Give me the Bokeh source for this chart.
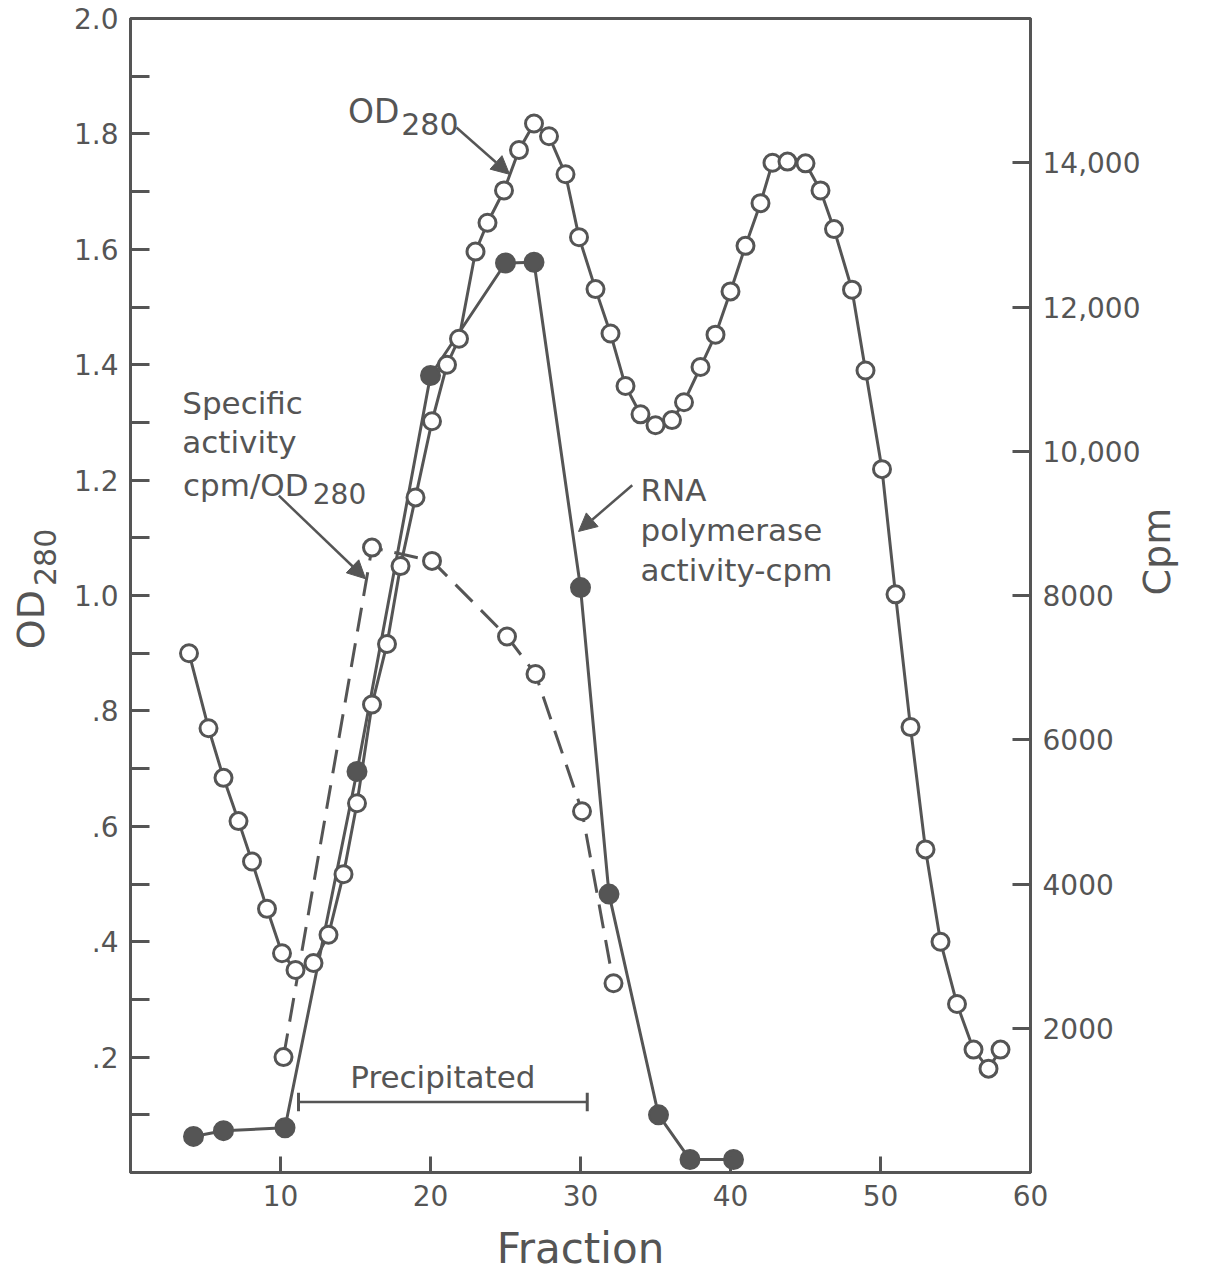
import math
from bokeh.plotting import figure
from bokeh.models import Range1d, LinearAxis, FixedTicker, Label, Arrow, NormalHead
from bokeh.embed import file_html
from bokeh.resources import INLINE

# ---------------- data ----------------
od_frac = [3.9, 5.2, 6.2, 7.2, 8.1, 9.1, 10.1, 11.0, 12.2, 13.2, 14.2, 15.1, 16.1, 17.1,
           18.0, 19.0, 20.1, 21.1, 21.9, 23.0, 23.8, 24.9, 25.9, 26.9, 27.9, 29.0, 29.9,
           31.0, 32.0, 33.0, 34.0, 35.0, 36.1, 36.9, 38.0, 39.0, 40.0, 41.0, 42.0, 42.8,
           43.8, 45.0, 46.0, 46.9, 48.1, 49.0, 50.1, 51.0, 52.0, 53.0, 54.0, 55.1, 56.2,
           57.2, 58.0]
od_val = [0.90, 0.77, 0.684, 0.609, 0.539, 0.457, 0.380, 0.351, 0.363, 0.412, 0.517, 0.640,
          0.811, 0.916, 1.051, 1.170, 1.302, 1.400, 1.445, 1.596, 1.646, 1.702, 1.772, 1.818,
          1.796, 1.730, 1.621, 1.531, 1.454, 1.363, 1.314, 1.295, 1.304, 1.335, 1.396, 1.452,
          1.527, 1.606, 1.680, 1.750, 1.752, 1.749, 1.702, 1.635, 1.530, 1.390, 1.219, 1.002,
          0.772, 0.560, 0.400, 0.292, 0.213, 0.180, 0.213]

cpm_frac = [4.2, 6.2, 10.3, 15.1, 20.0, 25.0, 26.9, 30.0, 31.9, 35.2, 37.3, 40.2]
cpm_val = [500, 580, 620, 5560, 11050, 12610, 12620, 8110, 3860, 800, 180, 180]

sa_frac = [10.2, 16.1, 20.1, 25.1, 27.0, 30.1, 32.2]
sa_val = [0.20, 1.083, 1.060, 0.929, 0.864, 0.626, 0.328]

x_ticks = [10, 20, 30, 40, 50, 60]
left_ticks = [round(0.1 * i, 1) for i in range(1, 21)]
left_tick_labels = {0.2: ".2", 0.4: ".4", 0.6: ".6", 0.8: ".8", 1.0: "1.0",
                    1.2: "1.2", 1.4: "1.4", 1.6: "1.6", 1.8: "1.8", 2.0: "2.0"}
right_ticks = [2000, 4000, 6000, 8000, 10000, 12000, 14000]
right_tick_labels = ["2000", "4000", "6000", "8000", "10,000", "12,000", "14,000"]

precip_start, precip_end, precip_level = 11.2, 30.45, 0.122

# ---------------- figure ----------------
C = "#555555"
FONT = "DejaVu Sans"
NB = "\u00a0"

p = figure(width=1205, height=1276, x_range=Range1d(0, 60), y_range=Range1d(0, 2.0),
           output_backend="svg", toolbar_location=None,
           min_border_left=130, min_border_right=175, min_border_top=18, min_border_bottom=104)
p.extra_y_ranges = {"cpm": Range1d(0, 16000)}
p.grid.visible = False
p.outline_line_color = C
p.outline_line_width = 3
p.background_fill_color = "white"
p.border_fill_color = "white"

right_axis = LinearAxis(y_range_name="cpm")
p.add_layout(right_axis, "right")

xa = p.xaxis[0]
ya = p.yaxis[0]
xa.ticker = FixedTicker(ticks=x_ticks)
ya.ticker = FixedTicker(ticks=left_ticks)
ya.major_label_overrides = {t: left_tick_labels.get(t, "") for t in left_ticks}
right_axis.ticker = FixedTicker(ticks=right_ticks)
right_axis.major_label_overrides = {t: s for t, s in zip(right_ticks, right_tick_labels)}

for ax, tin in ((xa, 16), (ya, 19), (right_axis, 18)):
    ax.axis_line_color = C
    ax.axis_line_width = 3
    ax.major_tick_in = tin
    ax.major_tick_out = 0
    ax.minor_tick_in = 0
    ax.minor_tick_out = 0
    ax.major_tick_line_color = C
    ax.major_tick_line_width = 3
    ax.major_label_text_font = FONT
    ax.major_label_text_font_size = "28px"
    ax.major_label_text_color = C
    ax.major_label_standoff = 12

# axis titles
xa.axis_label = "Fraction"
xa.axis_label_text_font = FONT
xa.axis_label_text_font_size = "42px"
xa.axis_label_text_font_style = "normal"
xa.axis_label_text_color = C
xa.axis_label_standoff = 15

right_axis.axis_label = "Cpm"
right_axis.axis_label_text_font = FONT
right_axis.axis_label_text_font_size = "38px"
right_axis.axis_label_text_font_style = "normal"
right_axis.axis_label_text_color = C
right_axis.axis_label_text_align = "center"
right_axis.axis_label_standoff = 14
if "axis_label_orientation" in right_axis.properties():
    right_axis.axis_label_orientation = math.pi / 2


def title_axis(text, size, standoff):
    ax = LinearAxis(ticker=FixedTicker(ticks=[]),
                    axis_line_color=None, major_tick_line_color=None,
                    minor_tick_line_color=None, major_tick_in=0, major_tick_out=0,
                    minor_tick_in=0, minor_tick_out=0,
                    axis_label=text, axis_label_text_font=FONT,
                    axis_label_text_font_size=size, axis_label_text_font_style="normal",
                    axis_label_text_color=C, axis_label_standoff=standoff)
    p.add_layout(ax, "left")


# left title "OD280" (subscript drawn as its own, slightly lower, label)
title_axis(NB * 8 + "280", "30px", 8)
title_axis("OD" + NB * 4, "38px", -28)

# ---------------- series ----------------
p.line(od_frac, od_val, line_color=C, line_width=3)
p.line(cpm_frac, cpm_val, y_range_name="cpm", line_color=C, line_width=3)
p.line(sa_frac, sa_val, line_color=C, line_width=3, line_dash="24 12")

p.scatter(od_frac, od_val, marker="circle", size=17, fill_color="white",
          line_color=C, line_width=3)
p.scatter(sa_frac, sa_val, marker="circle", size=17, fill_color="white",
          line_color=C, line_width=3)
p.scatter(cpm_frac, cpm_val, y_range_name="cpm", marker="circle", size=19,
          fill_color=C, line_color=C, line_width=2)

# ---------------- annotations ----------------
def lab(x, y, text, size, align="left"):
    p.add_layout(Label(x=x, y=y, text=text, text_font=FONT, text_font_size=size,
                       text_color=C, text_align=align, text_baseline="alphabetic"))


def arrow(x0, y0, x1, y1):
    p.add_layout(Arrow(end=NormalHead(size=18, fill_color=C, line_color=C, line_width=1),
                       x_start=x0, y_start=y0, x_end=x1, y_end=y1,
                       line_color=C, line_width=2.5))


# OD280 label near the first peak
lab(14.5, 1.838, "OD", "33px")
lab(18.05, 1.818, "280", "30px")
arrow(21.73, 1.811, 25.27, 1.730)

# Specific activity
lab(3.45, 1.333, "Specific", "31px")
lab(3.45, 1.266, "activity", "31px")
lab(3.5, 1.192, "cpm/OD", "31px")
lab(12.15, 1.176, "280", "28px")
arrow(9.89, 1.173, 15.67, 1.029)

# RNA polymerase
lab(34.0, 1.182, "RNA", "31px")
lab(34.0, 1.113, "polymerase", "31px")
lab(34.0, 1.045, "activity-cpm", "31px")
arrow(33.45, 1.191, 29.87, 1.111)

# Precipitated bracket
lab((precip_start + precip_end) / 2, 0.165, "Precipitated", "31px", align="center")
p.segment(x0=[precip_start], y0=[precip_level], x1=[precip_end], y1=[precip_level],
          line_color=C, line_width=2.5)
p.segment(x0=[precip_start, precip_end], y0=[precip_level - 0.016, precip_level - 0.016],
          x1=[precip_start, precip_end], y1=[precip_level + 0.016, precip_level + 0.016],
          line_color=C, line_width=3)

open("out.html", "w").write(file_html(p, INLINE))
